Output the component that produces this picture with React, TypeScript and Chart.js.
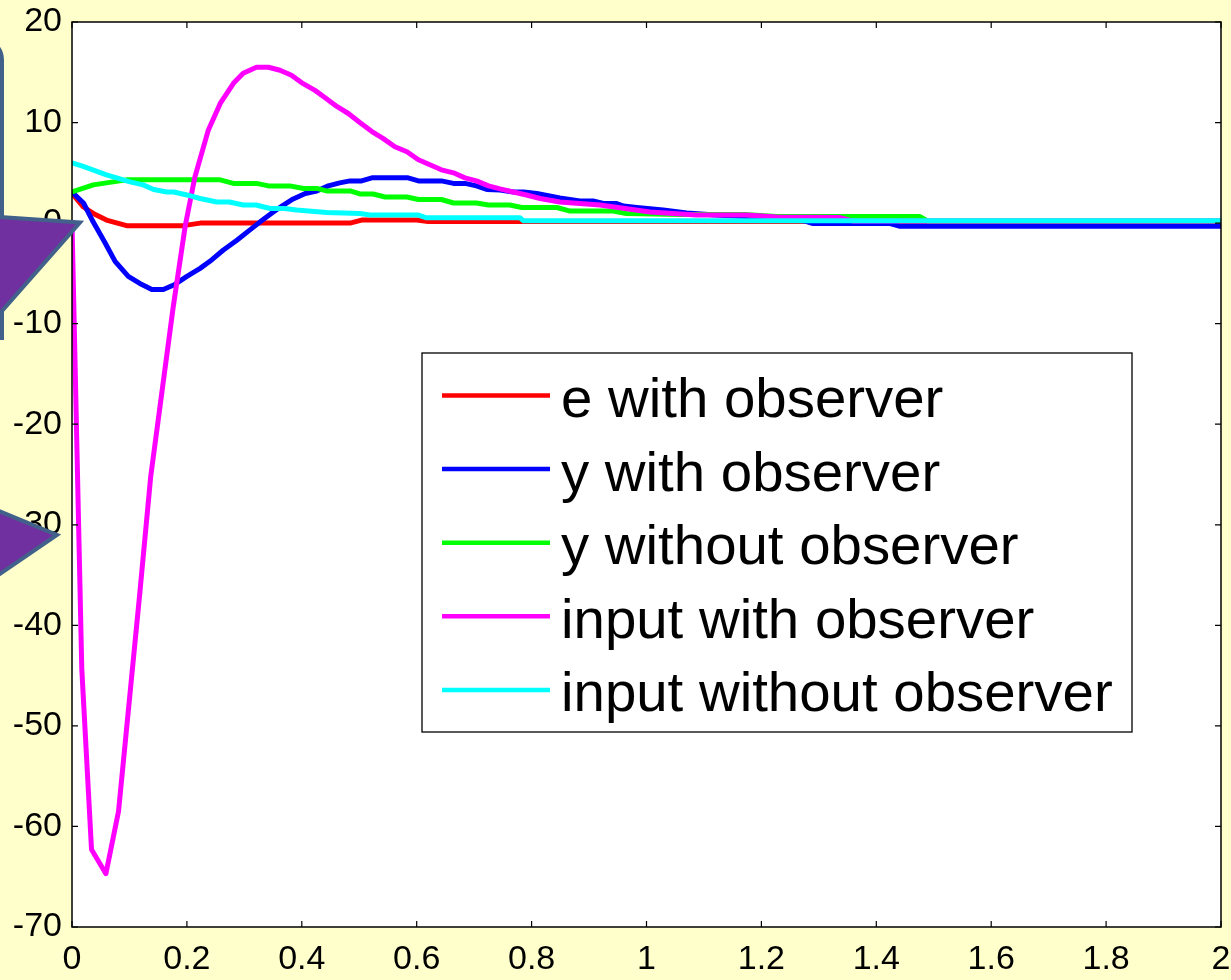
import React, { useEffect, useRef } from "react";
import { Chart, registerables } from "chart.js";

Chart.register(...registerables);

// ---- data ----
const xTicks = [0, 0.2, 0.4, 0.6, 0.8, 1, 1.2, 1.4, 1.6, 1.8, 2];
const yTicks = [-70, -60, -50, -40, -30, -20, -10, 0, 10, 20];

const seriesLabels = [
  "e with observer",
  "y with observer",
  "y without observer",
  "input with observer",
  "input without observer",
];
const seriesColors = ["#FF0000", "#0000FF", "#00FF00", "#FF00FF", "#00FFFF"];

const tE = [0, 0.02, 0.037, 0.06, 0.095, 0.194, 0.223, 0.484, 0.504, 0.6, 0.62, 0.78, 2];
const eWith = [2.95, 1.6, 0.96, 0.3, -0.25, -0.25, 0.0, 0.0, 0.3, 0.3, 0.15, 0.15, 0.15];

const tY = [0, 0.02, 0.037, 0.057, 0.075, 0.098, 0.118, 0.139, 0.159, 0.179, 0.2, 0.223, 0.24, 0.263, 0.287, 0.307, 0.327, 0.348, 0.368, 0.385, 0.406, 0.426, 0.446, 0.466, 0.484, 0.504, 0.522, 0.585, 0.603, 0.643, 0.664, 0.684, 0.704, 0.722, 0.745, 0.768, 0.786, 0.809, 0.849, 0.884, 0.907, 0.925, 0.948, 0.96, 0.983, 1.029, 1.07, 1.12, 1.17, 1.22, 1.276, 1.29, 1.424, 1.44, 2];
const yWith = [3.1, 2.0, 0.1, -1.9, -3.8, -5.3, -6.0, -6.6, -6.6, -6.1, -5.3, -4.5, -3.8, -2.7, -1.7, -0.8, 0.1, 1.0, 1.8, 2.4, 2.95, 3.2, 3.7, 4.0, 4.2, 4.2, 4.5, 4.5, 4.2, 4.2, 3.95, 3.95, 3.7, 3.35, 3.3, 3.1, 3.1, 2.95, 2.5, 2.2, 2.2, 1.95, 1.95, 1.7, 1.55, 1.3, 1.0, 0.8, 0.65, 0.45, 0.2, -0.05, -0.05, -0.3, -0.3];

const tYNo = [0, 0.037, 0.06, 0.095, 0.258, 0.281, 0.321, 0.342, 0.379, 0.403, 0.426, 0.443, 0.484, 0.501, 0.524, 0.545, 0.583, 0.603, 0.643, 0.664, 0.704, 0.725, 0.762, 0.783, 0.844, 0.867, 0.942, 0.965, 1.058, 1.17, 1.227, 1.476, 1.49, 2];
const yWithout = [3.1, 3.8, 4.0, 4.3, 4.3, 3.95, 3.95, 3.7, 3.7, 3.45, 3.45, 3.2, 3.2, 2.9, 2.9, 2.6, 2.6, 2.35, 2.35, 2.0, 2.0, 1.8, 1.8, 1.55, 1.55, 1.2, 1.2, 0.95, 0.85, 0.85, 0.65, 0.65, 0.2, 0.2];

const tU = [0, 0.017, 0.034, 0.059, 0.081, 0.118, 0.137, 0.176, 0.197, 0.214, 0.237, 0.258, 0.281, 0.298, 0.321, 0.342, 0.362, 0.382, 0.4, 0.423, 0.44, 0.461, 0.481, 0.501, 0.522, 0.542, 0.562, 0.583, 0.603, 0.623, 0.643, 0.664, 0.684, 0.704, 0.725, 0.745, 0.768, 0.791, 0.815, 0.849, 0.919, 1.006, 1.087, 1.174, 1.227, 1.337, 1.36, 2];
const uWith = [0, -44.3, -62.3, -64.7, -58.5, -36.8, -25.2, -8.4, -0.3, 4.6, 9.2, 11.9, 13.9, 14.9, 15.5, 15.5, 15.2, 14.7, 13.95, 13.2, 12.5, 11.6, 10.9, 10.0, 9.1, 8.4, 7.6, 7.1, 6.3, 5.8, 5.3, 5.0, 4.5, 4.2, 3.7, 3.4, 3.1, 2.8, 2.45, 2.1, 1.8, 1.1, 0.8, 0.8, 0.6, 0.55, 0.2, 0.2];

const tUNo = [0, 0.017, 0.06, 0.101, 0.124, 0.142, 0.165, 0.177, 0.2, 0.223, 0.252, 0.274, 0.298, 0.32, 0.345, 0.37, 0.391, 0.443, 0.501, 0.519, 0.603, 0.617, 0.78, 0.786, 2];
const uWithout = [6.0, 5.7, 4.8, 4.1, 3.8, 3.35, 3.1, 3.1, 2.8, 2.45, 2.1, 2.1, 1.8, 1.8, 1.45, 1.45, 1.3, 1.06, 0.96, 0.8, 0.8, 0.53, 0.53, 0.23, 0.23];

const seriesT = [tE, tY, tYNo, tU, tUNo];
const seriesV = [eWith, yWith, yWithout, uWith, uWithout];

const FONT = "'Liberation Sans', Arial, sans-serif";
const BG = "#FFFFCC";

const framePlugin = {
  id: "frame",
  beforeDraw(chart: any) {
    const { ctx, chartArea: a, width, height } = chart;
    ctx.save();
    ctx.fillStyle = BG;
    ctx.fillRect(0, 0, width, height);
    ctx.fillStyle = "#FFFFFF";
    ctx.fillRect(a.left, a.top, a.right - a.left, a.bottom - a.top);
    ctx.restore();
  },
  afterDatasetsDraw(chart: any) {
    const { ctx, chartArea: a, scales } = chart;
    ctx.save();
    ctx.strokeStyle = "#000";
    ctx.lineWidth = 1.5;
    ctx.strokeRect(a.left, a.top, a.right - a.left, a.bottom - a.top);
    ctx.lineWidth = 1.2;
    const tl = 6;
    ctx.beginPath();
    xTicks.forEach((v) => {
      const x = scales.x.getPixelForValue(v);
      ctx.moveTo(x, a.bottom);
      ctx.lineTo(x, a.bottom - tl);
      ctx.moveTo(x, a.top);
      ctx.lineTo(x, a.top + tl);
    });
    yTicks.forEach((v) => {
      const y = scales.y.getPixelForValue(v);
      ctx.moveTo(a.left, y);
      ctx.lineTo(a.left + tl, y);
      ctx.moveTo(a.right, y);
      ctx.lineTo(a.right - tl, y);
    });
    ctx.stroke();
    ctx.restore();
  },
  afterDraw(chart: any) {
    const { ctx } = chart;
    ctx.save();
    // legend box
    const bx = 422, by = 353, bw = 710, bh = 379;
    ctx.fillStyle = "#FFFFFF";
    ctx.fillRect(bx, by, bw, bh);
    ctx.strokeStyle = "#000";
    ctx.lineWidth = 1.3;
    ctx.strokeRect(bx, by, bw, bh);
    ctx.font = `56.4px ${FONT}`;
    ctx.textBaseline = "alphabetic";
    ctx.textAlign = "left";
    chart.data.datasets.forEach((ds: any, i: number) => {
      const y = 395.5 + i * 73.6;
      ctx.strokeStyle = ds.borderColor;
      ctx.lineWidth = 4.5;
      ctx.beginPath();
      ctx.moveTo(442, y);
      ctx.lineTo(550, y);
      ctx.stroke();
      ctx.fillStyle = "#000";
      ctx.fillText(ds.label, 561, y + 21.5);
    });

    // slide decorations
    ctx.lineJoin = "miter";
    ctx.strokeStyle = "#41618A";
    ctx.lineWidth = 4;
    ctx.beginPath();
    ctx.moveTo(-40, 38);
    ctx.lineTo(-20, 38);
    ctx.arcTo(2, 38, 2, 60, 22);
    ctx.lineTo(2, 340);
    ctx.stroke();

    ctx.fillStyle = "#7030A0";
    const tri = (pts: number[][]) => {
      ctx.beginPath();
      ctx.moveTo(pts[0][0], pts[0][1]);
      for (let k = 1; k < pts.length; k++) ctx.lineTo(pts[k][0], pts[k][1]);
      ctx.closePath();
      ctx.fill();
      ctx.stroke();
    };
    tri([[-6, 216.5], [80, 222.5], [-6, 320]]);
    tri([[-6, 509], [57, 535], [-6, 578]]);
    ctx.restore();
  },
};

const zeroPad = (s: any) => {
  s.paddingLeft = 0;
  s.paddingRight = 0;
  s.paddingTop = 0;
  s.paddingBottom = 0;
};

export default function App() {
  const ref = useRef<HTMLCanvasElement | null>(null);
  useEffect(() => {
    document.body.style.margin = "0";
    document.body.style.background = BG;
    const canvas = ref.current!;
    const chart = new Chart(canvas, {
      type: "line",
      data: {
        datasets: seriesLabels.map((label, i) => ({
          label,
          data: seriesT[i].map((t, k) => ({ x: t, y: seriesV[i][k] })),
          borderColor: seriesColors[i],
          backgroundColor: seriesColors[i],
          borderWidth: 5,
          pointRadius: 0,
          tension: 0,
          fill: false,
          borderJoinStyle: "round",
          order: seriesLabels.length - i,
        })),
      },
      options: {
        responsive: false,
        maintainAspectRatio: false,
        animation: false,
        layout: { padding: { left: 0, top: 22, right: 10, bottom: 0 } },
        plugins: { legend: { display: false }, tooltip: { enabled: false } },
        scales: {
          x: {
            type: "linear",
            min: 0,
            max: 2,
            afterBuildTicks: (s: any) => {
              s.ticks = xTicks.map((v) => ({ value: v }));
            },
            afterFit: (s: any) => {
              s.height = 53;
              zeroPad(s);
            },
            ticks: {
              autoSkip: false,
              maxRotation: 0,
              padding: 12,
              color: "#000",
              font: { family: FONT, size: 34 },
              callback: (v: any) => String(Math.round(Number(v) * 10) / 10),
            },
            grid: { display: false, drawTicks: false },
            border: { display: false },
          },
          y: {
            type: "linear",
            min: -70,
            max: 20,
            afterBuildTicks: (s: any) => {
              s.ticks = yTicks.map((v) => ({ value: v }));
            },
            afterFit: (s: any) => {
              s.width = 72;
              zeroPad(s);
            },
            ticks: {
              autoSkip: false,
              padding: 10,
              color: "#000",
              font: { family: FONT, size: 34 },
              callback: (v: any) => String(v),
            },
            grid: { display: false, drawTicks: false },
            border: { display: false },
          },
        },
      },
      plugins: [framePlugin],
    } as any);
    return () => chart.destroy();
  }, []);
  return (
    <canvas
      ref={ref}
      width={1231}
      height={980}
      style={{ display: "block", width: 1231, height: 980 }}
    />
  );
}
